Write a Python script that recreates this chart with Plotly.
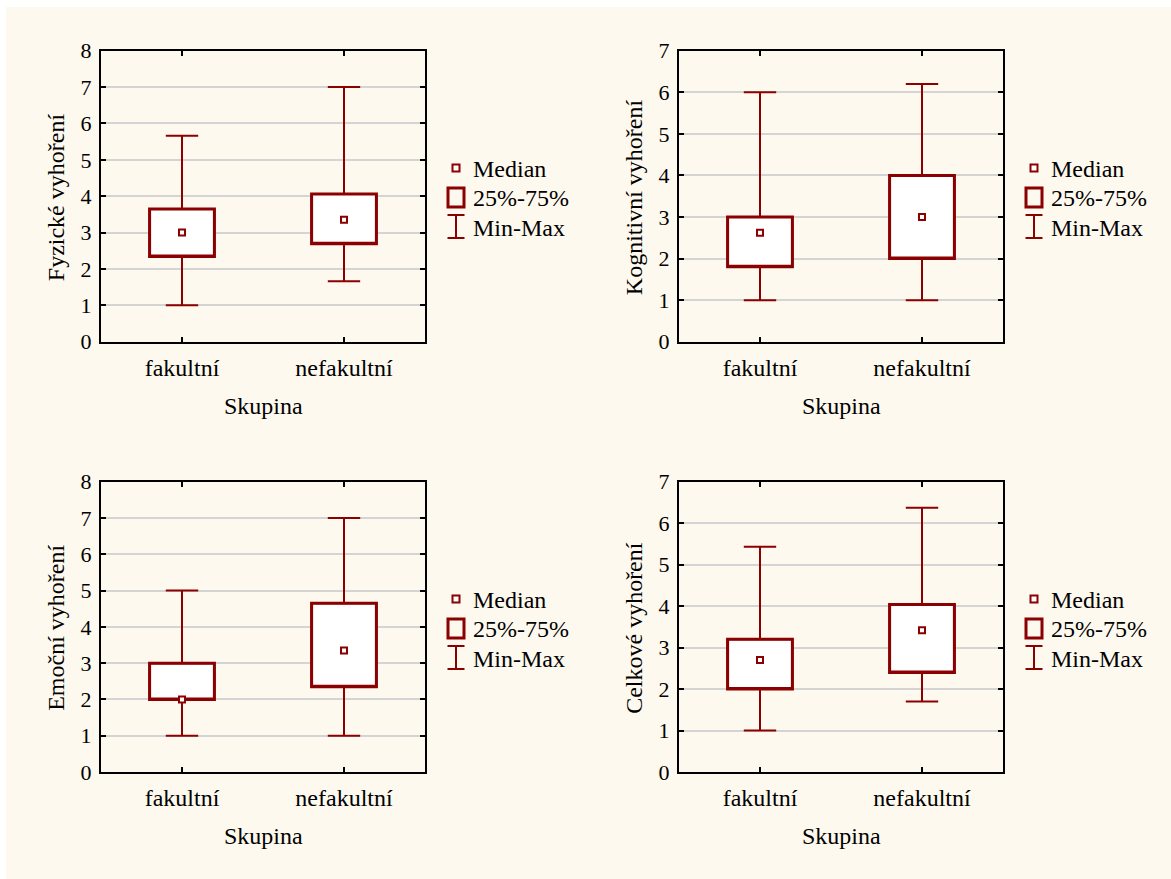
import plotly.graph_objects as go

W, H = 1171, 879

categories = ["fakultní", "nefakultní"]
panel_titles = ["Fyzické vyhoření", "Kognitivní vyhoření", "Emoční vyhoření", "Celkové vyhoření"]
x_title = "Skupina"
y_max = [8, 7, 8, 7]

# per panel: [fakultní, nefakultní]
mins    = [[1.0, 1.66], [1.0, 1.0], [1.0, 1.0], [1.0, 1.70]]
q1s     = [[2.34, 2.69], [1.80, 2.0], [2.0, 2.35], [2.0, 2.40]]
medians = [[3.0, 3.35], [2.62, 3.0], [2.0, 3.35], [2.70, 3.42]]
q3s     = [[3.65, 4.06], [3.0, 4.0], [3.0, 4.65], [3.20, 4.04]]
maxs    = [[5.66, 7.0], [6.0, 6.2], [5.0, 7.0], [5.43, 6.37]]

legend_labels = ["Median", "25%-75%", "Min-Max"]

RED = "#8B0000"
FONT = "Liberation Serif, Times New Roman, serif"
CREAM = "rgb(254,249,239)"
TXT = 24

# panel pixel boxes (left, right, top, bottom)
panels = [(101, 425, 50.7, 341.7), (679, 1003, 50.7, 341.7),
          (101, 425, 481.7, 772), (679, 1003, 481.7, 772)]


def px(x):
    return x / W


def py(y):
    return 1 - y / H


fig = go.Figure()
shapes = [dict(type="rect", xref="paper", yref="paper", x0=px(6), x1=1, y0=0, y1=py(7),
               fillcolor=CREAM, line=dict(width=0), layer="below")]
annotations = []

for i in range(4):
    xa = "x" if i == 0 else f"x{i+1}"
    ya = "y" if i == 0 else f"y{i+1}"
    left, right, top, bottom = panels[i]
    # thick box outline
    fig.add_trace(go.Bar(x=categories, base=q1s[i],
                         y=[b - a for a, b in zip(q1s[i], q3s[i])],
                         width=0.4, marker=dict(color="white", line=dict(color=RED, width=3)),
                         xaxis=xa, yaxis=ya, showlegend=False, hoverinfo="skip"))
    # whiskers
    fig.add_trace(go.Box(x=categories, q1=q1s[i], median=q1s[i], q3=q3s[i],
                         lowerfence=mins[i], upperfence=maxs[i], width=0.4,
                         whiskerwidth=0.5, boxpoints=False,
                         line=dict(color=RED, width=2), fillcolor="rgba(255,255,255,0)",
                         xaxis=xa, yaxis=ya, showlegend=False, hoverinfo="skip"))
    # median marker
    fig.add_trace(go.Scatter(x=categories, y=medians[i], mode="markers",
                             marker=dict(symbol="square", size=6, color="white",
                                         line=dict(color=RED, width=2)),
                             xaxis=xa, yaxis=ya, showlegend=False, hoverinfo="skip"))

    axis_common = dict(showline=True, linecolor="black", linewidth=2, mirror="allticks",
                       ticks="inside", ticklen=5, tickcolor="black", tickwidth=1.5,
                       zeroline=False, automargin=False)
    fig.layout[("xaxis" if i == 0 else f"xaxis{i+1}")] = dict(
        domain=[px(left), px(right)], anchor=ya, type="category",
        range=[-0.5, 1.5], showgrid=False, ticklabelstandoff=3,
        tickfont=dict(family=FONT, size=TXT, color="black"), **axis_common)
    fig.layout[("yaxis" if i == 0 else f"yaxis{i+1}")] = dict(
        domain=[py(bottom), py(top)], anchor=xa, range=[0, y_max[i]], dtick=1,
        showgrid=True, gridcolor="#D4D4D4", gridwidth=2, ticklabelstandoff=3,
        tickfont=dict(family=FONT, size=22, color="black"), **axis_common)

    cx = (left + right) / 2
    annotations.append(dict(text=x_title, x=px(cx), y=py(bottom + 64), xref="paper", yref="paper",
                            showarrow=False, xanchor="center", yanchor="middle",
                            font=dict(family=FONT, size=TXT, color="black")))
    annotations.append(dict(text=panel_titles[i], x=px(left - 45), y=py((top + bottom) / 2 + 1),
                            xref="paper", yref="paper", textangle=-90,
                            showarrow=False, xanchor="center", yanchor="middle",
                            font=dict(family=FONT, size=TXT, color="black")))

    # legend
    lx = left + 355
    ly = top + 117.3
    # median symbol
    shapes.append(dict(type="rect", xref="paper", yref="paper",
                       x0=px(lx - 3.5), x1=px(lx + 3.5), y0=py(ly + 3.5), y1=py(ly - 3.5),
                       line=dict(color=RED, width=2), fillcolor="white"))
    # box symbol
    shapes.append(dict(type="rect", xref="paper", yref="paper",
                       x0=px(lx - 8), x1=px(lx + 8), y0=py(ly + 39), y1=py(ly + 20),
                       line=dict(color=RED, width=3), fillcolor=CREAM))
    # min-max symbol
    shapes.append(dict(type="line", xref="paper", yref="paper",
                       x0=px(lx), x1=px(lx), y0=py(ly + 47), y1=py(ly + 70),
                       line=dict(color=RED, width=2)))
    for yy in (ly + 47, ly + 70):
        shapes.append(dict(type="line", xref="paper", yref="paper",
                           x0=px(lx - 8.5), x1=px(lx + 8.5), y0=py(yy), y1=py(yy),
                           line=dict(color=RED, width=2)))
    for k, lab in enumerate(legend_labels):
        annotations.append(dict(text=lab, x=px(lx + 15), y=py(ly + 0.5 + 29.5 * k),
                                xref="paper", yref="paper", showarrow=False,
                                xanchor="left", yanchor="middle",
                                font=dict(family=FONT, size=TXT, color="black")))

fig.update_layout(template="none", width=W, height=H, margin=dict(l=0, r=0, t=0, b=0, pad=0),
                  font=dict(family=FONT, size=TXT, color="black"),
                  paper_bgcolor="white", plot_bgcolor="white",
                  shapes=shapes, annotations=annotations, showlegend=False,
                  barmode="overlay", boxmode="overlay")

fig.write_html("out.html")
